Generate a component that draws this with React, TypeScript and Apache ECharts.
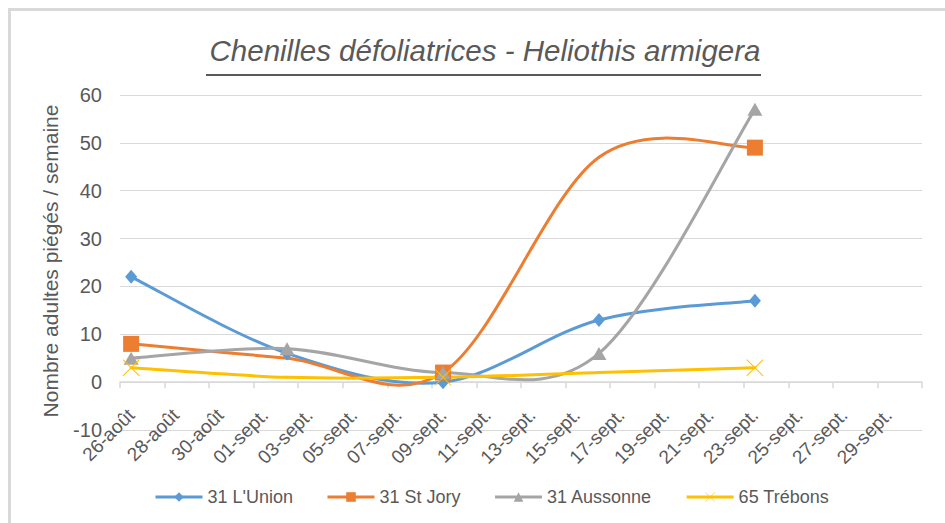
import React, { useEffect, useRef } from "react";
import * as echarts from "echarts";

const dayLabels = [
  "26-août", "27-août", "28-août", "29-août", "30-août", "31-août",
  "01-sept.", "02-sept.", "03-sept.", "04-sept.", "05-sept.", "06-sept.", "07-sept.", "08-sept.", "09-sept.", "10-sept.",
  "11-sept.", "12-sept.", "13-sept.", "14-sept.", "15-sept.", "16-sept.", "17-sept.", "18-sept.", "19-sept.", "20-sept.",
  "21-sept.", "22-sept.", "23-sept.", "24-sept.", "25-sept.", "26-sept.", "27-sept.", "28-sept.", "29-sept.", "30-sept.",
];
const sampleDates = ["26-août", "02-sept.", "09-sept.", "16-sept.", "23-sept."];
const lunion = [22, 6, 0, 13, 17];
const stJory = [8, 5, 2, 47, 49];
const aussonne = [5, 7, 2, 6, 57];
const trebons = [3, 1, 1, 2, 3];
const seriesNames = ["31 L'Union", "31 St Jory", "31 Aussonne", "65 Trébons"];
const colors = ["#5B9BD5", "#ED7D31", "#A5A5A5", "#FFC000"];
const titleText = "Chenilles défoliatrices - Heliothis armigera";
const yTitle = "Nombre adultes piégés / semaine";

const FONT = "'Liberation Sans', Arial, sans-serif";
const X_SYMBOL = "path://M0,0.7L0.7,0L17,16.3L16.3,17Z M16.3,0L17,0.7L0.7,17L0,16.3Z";

function toDaily(values: number[]) {
  return dayLabels.map((d) => {
    const i = sampleDates.indexOf(d);
    return i >= 0 ? values[i] : null;
  });
}
function toPoints(values: number[]) {
  return sampleDates.map((d, i) => [dayLabels.indexOf(d), values[i]]);
}

export default function App() {
  const ref = useRef<HTMLDivElement>(null);
  useEffect(() => {
    if (!ref.current) return;
    const chart = echarts.init(ref.current, undefined, { renderer: "svg" });
    const all = [lunion, stJory, aussonne, trebons];
    const symbols = ["diamond", "rect", "triangle", X_SYMBOL];
    const sizes: any[] = [[12, 14], 16, [15, 13], 17];

    const curveSeries = all.map((vals, k) => {
      const pts = toPoints(vals);
      return {
        type: "custom",
        data: pts,
        encode: { x: 0, y: 1 },
        silent: true,
        z: 2 + k,
        renderItem: (params: any, api: any) => {
          const i = params.dataIndex;
          if (i >= pts.length - 1) return null;
          const P = (j: number) => {
            const jj = Math.max(0, Math.min(pts.length - 1, j));
            return api.coord(pts[jj]);
          };
          const p0 = P(i - 1), p1 = P(i), p2 = P(i + 1), p3 = P(i + 2);
          return {
            type: "bezierCurve",
            shape: {
              x1: p1[0], y1: p1[1], x2: p2[0], y2: p2[1],
              cpx1: p1[0] + (p2[0] - p0[0]) / 6,
              cpy1: p1[1] + (p2[1] - p0[1]) / 6,
              cpx2: p2[0] - (p3[0] - p1[0]) / 6,
              cpy2: p2[1] - (p3[1] - p1[1]) / 6,
            },
            style: { stroke: colors[k], lineWidth: 3, fill: null, lineCap: "round" },
          };
        },
      };
    });

    const markerSeries = all.map((vals, i) => ({
      name: seriesNames[i],
      type: "line",
      data: toDaily(vals),
      connectNulls: true,
      symbol: symbols[i],
      symbolSize: sizes[i],
      showSymbol: true,
      lineStyle: { width: 3, color: colors[i], opacity: 0 },
      itemStyle: { color: colors[i] },
      z: 10 + i,
    }));

    chart.setOption({
      animation: false,
      backgroundColor: "#ffffff",
      color: colors,
      grid: { left: 120, right: 23, top: 95, bottom: 93, containLabel: false },
      legend: {
        left: 149,
        top: 483,
        itemWidth: 47,
        itemHeight: 12,
        itemGap: 33,
        lineStyle: { opacity: 1, width: 3 },
        textStyle: { fontFamily: FONT, fontSize: 18, color: "#595959" },
        data: seriesNames.map((n, i) => ({ name: n, lineStyle: { color: colors[i], width: 3, opacity: 1 } })),
      },
      xAxis: {
        type: "category",
        data: dayLabels,
        boundaryGap: true,
        axisLine: { onZero: true, lineStyle: { color: "#D9D9D9", width: 1.5 } },
        axisTick: { show: true, interval: 1, length: 6, lineStyle: { color: "#D9D9D9", width: 1.5 } },
        axisLabel: {
          interval: 1,
          rotate: 45,
          margin: -18,
          fontFamily: FONT,
          fontSize: 19,
          color: "#595959",
        },
        splitLine: { show: false },
      },
      yAxis: {
        type: "value",
        min: -10,
        max: 60,
        interval: 10,
        axisLine: { show: false },
        axisTick: { show: false },
        axisLabel: { margin: 18, fontFamily: FONT, fontSize: 20, color: "#595959" },
        splitLine: { lineStyle: { color: "#D9D9D9", width: 1 } },
      },
      graphic: [
        { type: "rect", shape: { x: 8, y: 8, width: 937, height: 3 }, style: { fill: "#D9D9D9" } },
        { type: "rect", shape: { x: 8, y: 8, width: 3, height: 515 }, style: { fill: "#D9D9D9" } },
        {
          type: "text",
          x: 485,
          y: 50,
          style: {
            text: titleText,
            fontFamily: FONT,
            fontSize: 29.5,
            fontStyle: "italic",
            fill: "#595959",
            align: "center",
            verticalAlign: "middle",
          },
        },
        { type: "line", shape: { x1: 206, y1: 75, x2: 761, y2: 75 }, style: { stroke: "#595959", lineWidth: 2 } },
        {
          type: "text",
          x: 50,
          y: 261,
          rotation: Math.PI / 2,
          style: {
            text: yTitle,
            fontFamily: FONT,
            fontSize: 21,
            fill: "#595959",
            align: "center",
            verticalAlign: "middle",
          },
        },
      ],
      series: [...curveSeries, ...markerSeries],
    });
    return () => chart.dispose();
  }, []);
  return <div ref={ref} style={{ position: "absolute", left: 0, top: 0, width: 945, height: 523 }} />;
}
